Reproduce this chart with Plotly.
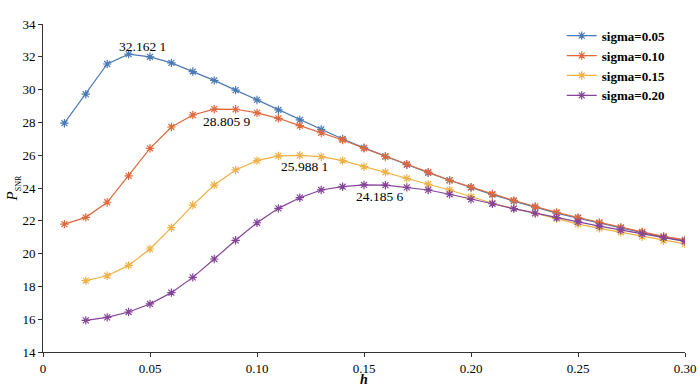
import plotly.graph_objects as go

h_a = [round(0.01 * i, 2) for i in range(1, 31)]
h_b = [round(0.01 * i, 2) for i in range(2, 31)]

sig005 = [27.95, 29.72, 31.56, 32.1621, 32.0, 31.63, 31.1, 30.56, 29.97, 29.37,
          28.76, 28.15, 27.57, 26.99, 26.45, 25.93, 25.42, 24.93, 24.47, 24.03,
          23.6, 23.2, 22.83, 22.47, 22.16, 21.86, 21.56, 21.28, 21.01, 20.8]
sig010 = [21.8, 22.21, 23.13, 24.74, 26.42, 27.72, 28.45, 28.8059, 28.80, 28.58,
          28.25, 27.8, 27.37, 26.93, 26.42, 25.92, 25.45, 24.97, 24.47, 24.05,
          23.63, 23.24, 22.87, 22.51, 22.2, 21.9, 21.6, 21.32, 21.05, 20.84]
sig015 = [18.35, 18.65, 19.28, 20.28, 21.58, 22.96, 24.18, 25.1, 25.67, 25.96,
          25.9881, 25.91, 25.67, 25.3, 24.96, 24.59, 24.23, 23.88, 23.47, 23.07,
          22.74, 22.46, 22.13, 21.8, 21.54, 21.3, 21.03, 20.79, 20.59]
sig020 = [15.93, 16.11, 16.44, 16.93, 17.62, 18.55, 19.67, 20.81, 21.88, 22.76,
          23.41, 23.88, 24.08, 24.1856, 24.17, 24.04, 23.88, 23.62, 23.31, 23.04,
          22.74, 22.46, 22.19, 21.93, 21.68, 21.44, 21.2, 20.97, 20.75]

names = ["sigma=0.05", "sigma=0.10", "sigma=0.15", "sigma=0.20"]
colors = ["#4a7ab6", "#e0693c", "#eeb142", "#85439a"]

peak_labels = ["32.162 1", "28.805 9", "25.988 1", "24.185 6"]
peak_pos = [(0.0463, 32.6), (0.086, 28.04), (0.1223, 25.34), (0.1575, 23.51)]

x_ticks = [0, 0.05, 0.10, 0.15, 0.20, 0.25, 0.30]
x_ticktext = ["0", "0.05", "0.10", "0.15", "0.20", "0.25", "0.30"]
y_ticks = list(range(14, 35, 2))

FONT = "Liberation Serif, Times New Roman, serif"

fig = go.Figure()
for xs, ys, nm, c in zip([h_a, h_a, h_b, h_b], [sig005, sig010, sig015, sig020], names, colors):
    fig.add_trace(go.Scatter(
        x=xs, y=ys, name=nm, mode="lines+markers",
        line=dict(color=c, width=1.2),
        marker=dict(symbol="asterisk-open", size=7, color=c, line=dict(color=c, width=1.2)),
    ))

for txt, (px, py) in zip(peak_labels, peak_pos):
    fig.add_annotation(x=px, y=py, text=txt, showarrow=False, xref="x", yref="y",
                       font=dict(family=FONT, size=13.5, color="black"))

fig.add_annotation(xref="paper", yref="paper", x=-0.046, y=0.5, xanchor="center", yanchor="middle",
                   text="<i>P</i><sub><span style='font-size:8px'>SNR</span></sub>",
                   textangle=-90, showarrow=False, font=dict(family=FONT, size=15, color="black"))

fig.add_annotation(xref="paper", yref="paper", x=0.5, y=-0.085, xanchor="center", yanchor="middle",
                   text="<b><i>h</i></b>", showarrow=False,
                   font=dict(family=FONT, size=14, color="black"))

fig.update_layout(
    width=700, height=390,
    margin=dict(l=43, r=15, t=24, b=38),
    paper_bgcolor="white", plot_bgcolor="white",
    font=dict(family=FONT, size=13, color="black"),
    showlegend=True,
    legend=dict(x=0.808, y=1.01, xanchor="left", yanchor="top",
                font=dict(family=FONT, size=13, color="black", weight="bold"),
                bgcolor="rgba(0,0,0,0)", tracegroupgap=0, itemwidth=30),
    xaxis=dict(range=[0, 0.30], tickvals=x_ticks, ticktext=x_ticktext, automargin=False,
               tickfont=dict(family=FONT, size=13, color="black"),
               showline=True, linecolor="#333", linewidth=1, ticks="outside", ticklen=4,
               tickcolor="#333", showgrid=False, zeroline=False),
    yaxis=dict(range=[14, 34], tickvals=y_ticks, automargin=False,
               tickfont=dict(family=FONT, size=13, color="black"),
               showline=True, linecolor="#333", linewidth=1, ticks="outside", ticklen=4,
               tickcolor="#333", showgrid=False, zeroline=False),
)

fig.write_html("out.html", config={"displayModeBar": False},
               post_script="document.body.style.margin='0';document.body.style.overflow='hidden';")
